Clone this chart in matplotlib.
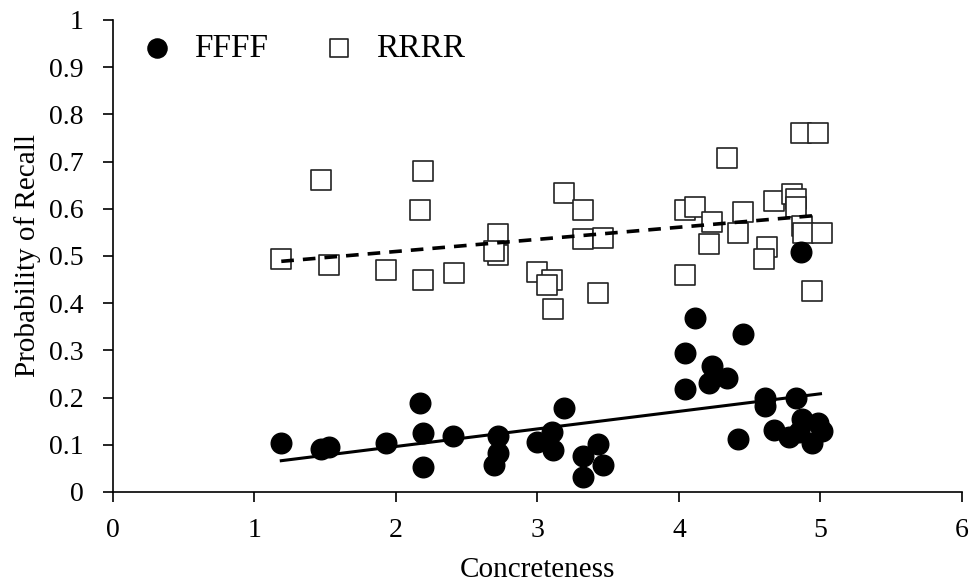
import numpy as np
import matplotlib
matplotlib.use("Agg")
import matplotlib.pyplot as plt

plt.rcParams['font.family'] = ['Liberation Serif', 'DejaVu Serif']

# FFFF (filled circles)
f_x = [1.19, 1.47, 1.53, 1.93, 2.17, 2.19, 2.19, 2.40, 2.72, 2.72, 2.69,
       3.00, 3.10, 3.11, 3.19, 3.32, 3.32, 3.43, 3.46,
       4.11, 4.04, 4.45, 4.23, 4.34, 4.21, 4.04, 4.61, 4.61, 4.83,
       4.42, 4.67, 4.78, 4.87, 4.98, 5.01, 4.94, 4.85, 4.86]
f_y = [0.104, 0.091, 0.095, 0.104, 0.189, 0.124, 0.053, 0.118, 0.118, 0.082, 0.058,
       0.106, 0.128, 0.089, 0.178, 0.076, 0.032, 0.102, 0.057,
       0.369, 0.294, 0.335, 0.266, 0.242, 0.231, 0.218, 0.199, 0.182, 0.199,
       0.112, 0.131, 0.116, 0.154, 0.146, 0.129, 0.104, 0.128, 0.508]

# RRRR (open squares)
r_x = [1.19, 1.47, 1.53, 1.93, 2.19, 2.17, 2.19, 2.41, 2.72, 2.72, 2.69,
       3.00, 3.10, 3.07, 3.11, 3.19, 3.32, 3.32, 3.46, 3.43,
       4.86, 4.98, 4.34, 4.04, 4.11, 4.23, 4.21, 4.04, 4.45, 4.42,
       4.67, 4.80, 4.83, 4.83, 4.87, 4.88, 5.01, 4.62, 4.60, 4.94]
r_y = [0.494, 0.661, 0.481, 0.470, 0.680, 0.597, 0.449, 0.464, 0.547, 0.502, 0.511,
       0.466, 0.449, 0.439, 0.388, 0.634, 0.597, 0.536, 0.538, 0.422,
       0.761, 0.761, 0.707, 0.597, 0.604, 0.572, 0.525, 0.460, 0.593, 0.549,
       0.616, 0.631, 0.621, 0.604, 0.564, 0.549, 0.549, 0.519, 0.494, 0.426]

# linear trend lines (intercept, slope)
f_trend = (0.022, 0.0372)
r_trend = (0.458, 0.0257)
trend_range = [1.19, 5.0]

fig = plt.figure(figsize=(9.73, 5.85), dpi=100)
ax = fig.add_axes([0.116, 0.159, 0.8727, 0.807])

ax.scatter(f_x, f_y, s=220, marker='o', color='black', zorder=3, label='FFFF')
ax.scatter(r_x, r_y, s=190, marker='s', facecolor='white', edgecolor='#222222',
           linewidths=1.2, zorder=2, label='RRRR')

xs = np.array(trend_range)
ax.plot(xs, f_trend[0] + f_trend[1] * xs, color='black', lw=2.2, zorder=4)
ax.plot(xs, r_trend[0] + r_trend[1] * xs, color='black', lw=2.6,
        linestyle=(0, (3.5, 2.5)), zorder=4)

ax.set_xlim(0, 6)
ax.set_ylim(0, 1)
ax.set_xticks(range(0, 7))
yt = np.round(np.arange(0, 1.01, 0.1), 1)
ax.set_yticks(yt)
ax.set_yticklabels(['0' if v == 0 else ('1' if v == 1 else f'{v:g}') for v in yt])
for s in ['top', 'right']:
    ax.spines[s].set_visible(False)
for s in ['left', 'bottom']:
    ax.spines[s].set_linewidth(1.2)
ax.tick_params(direction='out', length=7, width=1.2, labelsize=20)
ax.tick_params(axis='x', pad=12)
ax.tick_params(axis='y', pad=14)
ax.set_xlabel('Concreteness', fontsize=21, labelpad=10)
ax.set_ylabel('Probability of Recall', fontsize=21, labelpad=6)

leg = ax.legend(loc='upper left', bbox_to_anchor=(-0.003, 1.0), ncol=2, frameon=False,
                fontsize=24, handletextpad=0.1, columnspacing=1.15,
                borderaxespad=0.0)
leg.legend_handles[0].set_sizes([190])
leg.legend_handles[1].set_sizes([160])

fig.savefig('out.png', dpi=100)
